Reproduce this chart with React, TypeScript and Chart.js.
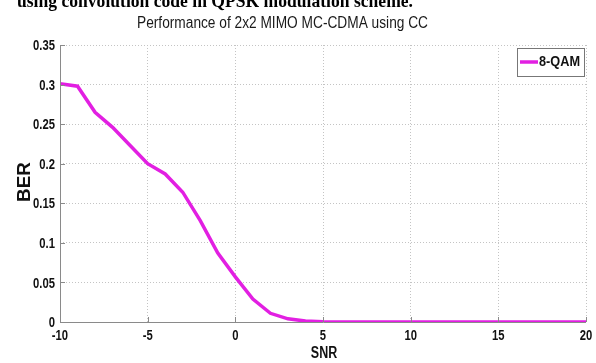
import React, { useEffect, useRef } from "react";
import { Chart, registerables } from "chart.js";

Chart.register(...registerables);

const snr = [-10, -9, -8, -7, -6, -5, -4, -3, -2, -1, 0, 1, 2, 3, 4, 5, 6, 7, 8, 9, 10, 11, 12, 13, 14, 15, 16, 17, 18, 19, 20];
const berQam8 = [0.301, 0.298, 0.265, 0.246, 0.223, 0.2, 0.187, 0.164, 0.128, 0.087, 0.057, 0.029, 0.011, 0.004, 0.0012, 0.0003, 0, 0, 0, 0, 0, 0, 0, 0, 0, 0, 0, 0, 0, 0, 0];
const xTickValues = [-10, -5, 0, 5, 10, 15, 20];
const xTickLabels = ["-10", "-5", "0", "5", "10", "15", "20"];
const yTickLabels = ["0", "0.05", "0.1", "0.15", "0.2", "0.25", "0.3", "0.35"];
const seriesName = "8-QAM";
const chartTitle = "Performance of 2x2 MIMO MC-CDMA using CC";
const captionAbove = "using convolution code in QPSK modulation scheme.";
const xTitle = "SNR";
const yTitle = "BER";

const SANS = "'Liberation Sans', Arial, sans-serif";
const LINE_COLOR = "#e21fe2";

function drawText(
  ctx: CanvasRenderingContext2D,
  text: string,
  x: number,
  y: number,
  font: string,
  sx: number,
  align: "left" | "center" | "right",
  color: string,
  rot = 0
) {
  ctx.save();
  ctx.font = font;
  ctx.fillStyle = color;
  ctx.textBaseline = "middle";
  ctx.textAlign = align;
  ctx.translate(x, y);
  if (rot) ctx.rotate(rot);
  ctx.scale(sx, 1);
  ctx.fillText(text, 0, 0);
  ctx.restore();
}

const decorPlugin = {
  id: "decor",
  afterDraw(chart: any) {
    const ctx = chart.ctx as CanvasRenderingContext2D;
    const area = chart.chartArea;
    const xs = chart.scales.x;
    const ys = chart.scales.y;
    ctx.save();
    // caption cut at the top
    ctx.fillStyle = "#000";
    ctx.font = "bold 19px 'Liberation Serif', serif";
    ctx.textBaseline = "alphabetic";
    const w1 = ctx.measureText(captionAbove).width;
    ctx.save();
    ctx.translate(17, 7);
    ctx.scale(396 / w1, 1);
    ctx.fillText(captionAbove, 0, 0);
    ctx.restore();
    // chart title
    ctx.font = "16px " + SANS;
    const w2 = ctx.measureText(chartTitle).width;
    drawText(ctx, chartTitle, 137, 24, "16px " + SANS, 291 / w2, "left", "#1a1a1a");
    // axes lines (left and bottom)
    ctx.strokeStyle = "#8a8a8a";
    ctx.lineWidth = 1;
    ctx.setLineDash([]);
    ctx.beginPath();
    ctx.moveTo(area.left + 0.5, area.top);
    ctx.lineTo(area.left + 0.5, area.bottom + 0.5);
    ctx.lineTo(area.right, area.bottom + 0.5);
    ctx.stroke();
    // inward ticks
    ctx.beginPath();
    xs.ticks.forEach((t: any) => {
      const px = Math.round(xs.getPixelForValue(t.value)) + 0.5;
      ctx.moveTo(px, area.bottom);
      ctx.lineTo(px, area.bottom - 5);
    });
    ys.ticks.forEach((t: any) => {
      const py = Math.round(ys.getPixelForValue(t.value)) + 0.5;
      ctx.moveTo(area.left, py);
      ctx.lineTo(area.left + 5, py);
    });
    ctx.stroke();
    // tick labels (condensed bold, like the original)
    const tickFont = "bold 15px " + SANS;
    xTickValues.forEach((v, i) => {
      drawText(ctx, xTickLabels[i], xs.getPixelForValue(v), area.bottom + 14, tickFont, 0.75, "center", "#111");
    });
    yTickLabels.forEach((lab, i) => {
      drawText(ctx, lab, area.left - 5, ys.getPixelForValue(i * 0.05) + 1, tickFont, 0.75, "right", "#111");
    });
    // axis titles
    drawText(ctx, xTitle, (area.left + area.right) / 2 + 1, 354, "bold 16px " + SANS, 0.78, "center", "#111");
    drawText(ctx, yTitle, 25, 182, "bold 18px " + SANS, 1.05, "center", "#111", -Math.PI / 2);
    // legend box
    const lx = 517, ly = 48, lw = 67, lh = 28;
    ctx.fillStyle = "#fff";
    ctx.fillRect(lx, ly, lw, lh);
    ctx.strokeStyle = "#777";
    ctx.lineWidth = 1;
    ctx.strokeRect(lx + 0.5, ly + 0.5, lw, lh);
    ctx.strokeStyle = LINE_COLOR;
    ctx.lineWidth = 3.5;
    ctx.beginPath();
    ctx.moveTo(520, 62);
    ctx.lineTo(538, 62);
    ctx.stroke();
    drawText(ctx, seriesName, 539, 62, "bold 15px " + SANS, 0.85, "left", "#111");
    ctx.restore();
  },
};

export default function App() {
  const ref = useRef<HTMLCanvasElement>(null);
  useEffect(() => {
    if (!ref.current) return;
    const chart = new Chart(ref.current, {
      type: "line",
      data: {
        datasets: [
          {
            label: seriesName,
            data: snr.map((x, i) => ({ x, y: berQam8[i] })),
            borderColor: LINE_COLOR,
            borderWidth: 3.5,
            pointRadius: 0,
            tension: 0,
            fill: false,
          },
        ],
      },
      options: {
        animation: false,
        responsive: false,
        devicePixelRatio: 1,
        layout: { padding: { top: 45, right: 10, left: 0, bottom: 0 } },
        plugins: { legend: { display: false }, title: { display: false }, tooltip: { enabled: false } },
        scales: {
          x: {
            type: "linear",
            min: -10,
            max: 20,
            ticks: { stepSize: 5, display: false },
            grid: { color: "#c4c4c4", drawTicks: false },
            border: { display: false, dash: [1, 2] },
            afterFit: (s: any) => { s.height = 41; },
          },
          y: {
            type: "linear",
            min: 0,
            max: 0.35,
            ticks: { stepSize: 0.05, display: false },
            grid: { color: "#c4c4c4", drawTicks: false },
            border: { display: false, dash: [1, 2] },
            afterFit: (s: any) => { s.width = 60; },
          },
        },
      } as any,
      plugins: [decorPlugin],
    });
    return () => chart.destroy();
  }, []);
  return (
    <div style={{ position: "fixed", left: 0, top: 0, width: 596, height: 363, background: "#fff" }}>
      <canvas ref={ref} width={596} height={363} style={{ display: "block" }} />
    </div>
  );
}
